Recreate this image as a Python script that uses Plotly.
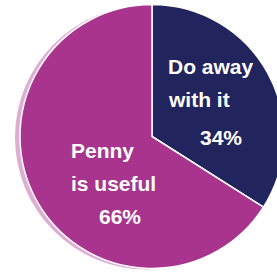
import plotly.graph_objects as go

labels = ["Do away with it", "Penny is useful"]
values = [34, 66]
label_lines = [["Do away", "with it"], ["Penny", "is useful"]]
colors = ["#22245e", "#a8348e"]

W, H = 291, 272
cx, cy, r = 152, 136.5, 132

fig = go.Figure()
# soft halftone rim behind the pie (left edge)
fig.add_trace(go.Pie(
    values=[1], labels=["rim"], marker=dict(colors=["#dfadd3"]),
    textinfo="none", hoverinfo="skip", sort=False, showlegend=False,
    domain=dict(x=[(cx - 5 - r) / W, (cx - 5 + r) / W],
                y=[(H - (cy + 1) - r) / H, (H - (cy + 1) + r) / H]),
))
fig.add_trace(go.Pie(
    labels=labels, values=values, sort=False, direction="clockwise", rotation=0,
    marker=dict(colors=colors, line=dict(color="white", width=1.5)),
    textinfo="none", showlegend=False,
    domain=dict(x=[(cx - r) / W, (cx + r) / W], y=[(H - cy - r) / H, (H - cy + r) / H]),
))

font = dict(family="Liberation Sans, Arial, sans-serif", size=21, color="white")
# text annotations built from data
ann = [
    (label_lines[0][0], 166, 66, "left"),
    (label_lines[0][1], 166, 99, "left"),
    (f"{values[0]}%", 244, 137, "right"),
    (label_lines[1][0], 69, 150, "left"),
    (label_lines[1][1], 69, 183, "left"),
    (f"{values[1]}%", 143, 216, "right"),
]
for txt, x, y, al in ann:
    fig.add_annotation(
        x=x / W, y=1 - y / H, xref="paper", yref="paper", text=f"<b>{txt}</b>",
        showarrow=False, xanchor=al, yanchor="middle", font=font,
    )

fig.update_layout(
    width=W, height=H, autosize=False,
    margin=dict(l=0, r=0, t=0, b=0),
    paper_bgcolor="white", plot_bgcolor="white",
)
fig.write_html(
    "out.html",
    config={"displayModeBar": False},
    post_script="document.documentElement.style.overflow='hidden';"
                "document.body.style.overflow='hidden';document.body.style.margin='0';",
)
